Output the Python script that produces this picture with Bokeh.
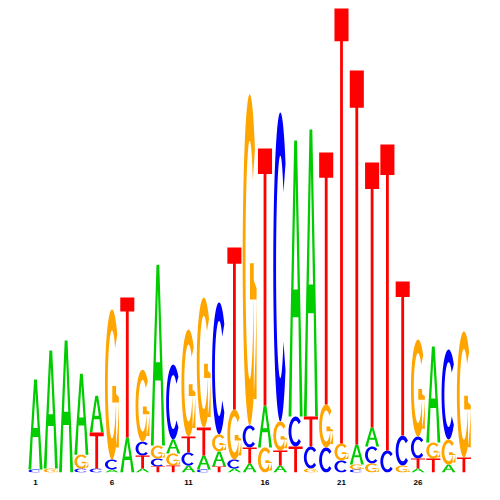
import numpy as np
from bokeh.plotting import figure
from bokeh.models import ColumnDataSource, FixedTicker, Range1d
from bokeh.embed import file_html
from bokeh.resources import INLINE

# ---------------- data (information content in bits, per position) ----------------
positions = list(range(1, 30))
A = [0.388, 0.509, 0.569, 0.349, 0.159, 0.013, 0.151, 0.017, 0.780, 0.060,
     0.030, 0.060, 0.065, 0.017, 0.039, 0.181, 0.030, 1.190, 1.237, 0.000,
     0.000, 0.086, 0.082, 0.000, 0.000, 0.017, 0.414, 0.034, 0.000]
C = [0.013, 0.000, 0.000, 0.017, 0.017, 0.043, 0.000, 0.060, 0.034, 0.323,
     0.056, 0.013, 0.569, 0.039, 0.095, 0.000, 1.332, 0.129, 0.095, 0.108,
     0.052, 0.013, 0.073, 0.095, 0.129, 0.095, 0.000, 0.388, 0.000]
G = [0.000, 0.017, 0.000, 0.060, 0.000, 0.647, 0.000, 0.310, 0.056, 0.052,
     0.461, 0.560, 0.073, 0.216, 1.427, 0.108, 0.125, 0.000, 0.017, 0.185,
     0.073, 0.022, 0.039, 0.000, 0.030, 0.418, 0.069, 0.108, 0.543]
T = [0.000, 0.000, 0.000, 0.000, 0.155, 0.000, 0.603, 0.056, 0.026, 0.030,
     0.069, 0.121, 0.026, 0.698, 0.069, 1.108, 0.065, 0.112, 0.129, 1.086,
     1.927, 1.612, 1.142, 1.319, 0.664, 0.043, 0.060, 0.000, 0.065]
tick_positions = [1, 6, 11, 16, 21, 26]
tick_labels = ["1", "6", "11", "16", "21", "26"]

colors = {"A": "#00CC00", "C": "#0000FF", "G": "#FFA500", "T": "#FF0000"}
heights = {"A": A, "C": C, "G": G, "T": T}

# ---------------- letter outlines in a unit box ----------------
def arc(a0, a1, rx, ry, n=60):
    t = np.radians(np.linspace(a0, a1, n))
    return list(0.5 + rx * np.cos(t)), list(0.5 + ry * np.sin(t))

def letter_polys(letter):
    if letter == "A":
        outer = ([0, 0.4, 0.6, 1, 0.8, 0.7, 0.3, 0.2],
                 [0, 1, 1, 0, 0, 0.36, 0.36, 0])
        hole = ([0.35, 0.65, 0.5], [0.46, 0.46, 0.86])
        return [[outer, hole]]
    if letter == "T":
        ring = ([0, 1, 1, 0.6, 0.6, 0.4, 0.4, 0],
                [1, 1, 0.9, 0.9, 0, 0, 0.9, 0.9])
        return [[ring]]
    if letter == "C":
        ox, oy = arc(42, 318, 0.5, 0.5)
        ix, iy = arc(318, 42, 0.3, 0.36)
        return [[(ox + ix, oy + iy)]]
    if letter == "G":
        ox, oy = arc(42, 350, 0.5, 0.5)
        ix, iy = arc(350, 42, 0.3, 0.36)
        bar = ([0.52, 0.99, 0.99, 0.52], [0.38, 0.38, 0.49, 0.49])
        stem = ([0.79, 0.99, 0.99, 0.79], [0.08, 0.08, 0.49, 0.49])
        return [[(ox + ix, oy + iy)], [bar], [stem]]

# ---------------- stack letters (smallest at the bottom) ----------------
hw = 0.46
glyph_data = {L: {"xs": [], "ys": []} for L in "ACGT"}
for i, pos in enumerate(positions):
    items = [(heights[L][i], L) for L in "ACGT" if heights[L][i] > 0]
    items.sort(key=lambda t: t[0])
    base = 0.0
    for h, L in items:
        gx, gy = [], []
        for poly in letter_polys(L):
            px, py = [], []
            for (ux, uy) in poly:
                px.append([float(pos - hw + u * 2 * hw) for u in ux])
                py.append([float(base + v * h) for v in uy])
            gx.append(px)
            gy.append(py)
        glyph_data[L]["xs"].append(gx)
        glyph_data[L]["ys"].append(gy)
        base += h

# ---------------- figure ----------------
p = figure(width=484, height=492,
           x_range=Range1d(0.0196, 30.085), y_range=Range1d(0, 2.0),
           output_backend="svg", toolbar_location=None,
           y_axis_location=None,
           min_border_left=20, min_border_right=4,
           min_border_top=8, min_border_bottom=20)
p.grid.visible = False
p.outline_line_color = None
p.background_fill_color = "white"
p.border_fill_color = "white"

for L in "ACGT":
    src = ColumnDataSource(glyph_data[L])
    p.multi_polygons(xs="xs", ys="ys", source=src,
                     fill_color=colors[L], line_color=None)

ax = p.xaxis[0]
ax.ticker = FixedTicker(ticks=tick_positions)
ax.major_label_overrides = {t: s for t, s in zip(tick_positions, tick_labels)}
ax.axis_line_color = None
ax.major_tick_line_color = None
ax.minor_tick_line_color = None
ax.major_tick_out = 0
ax.major_tick_in = 0
ax.major_label_standoff = 7
ax.major_label_text_font = "Liberation Sans"
ax.major_label_text_font_style = "bold"
ax.major_label_text_font_size = "8px"
ax.major_label_text_color = "black"

open("out.html", "w").write(file_html(p, INLINE))
